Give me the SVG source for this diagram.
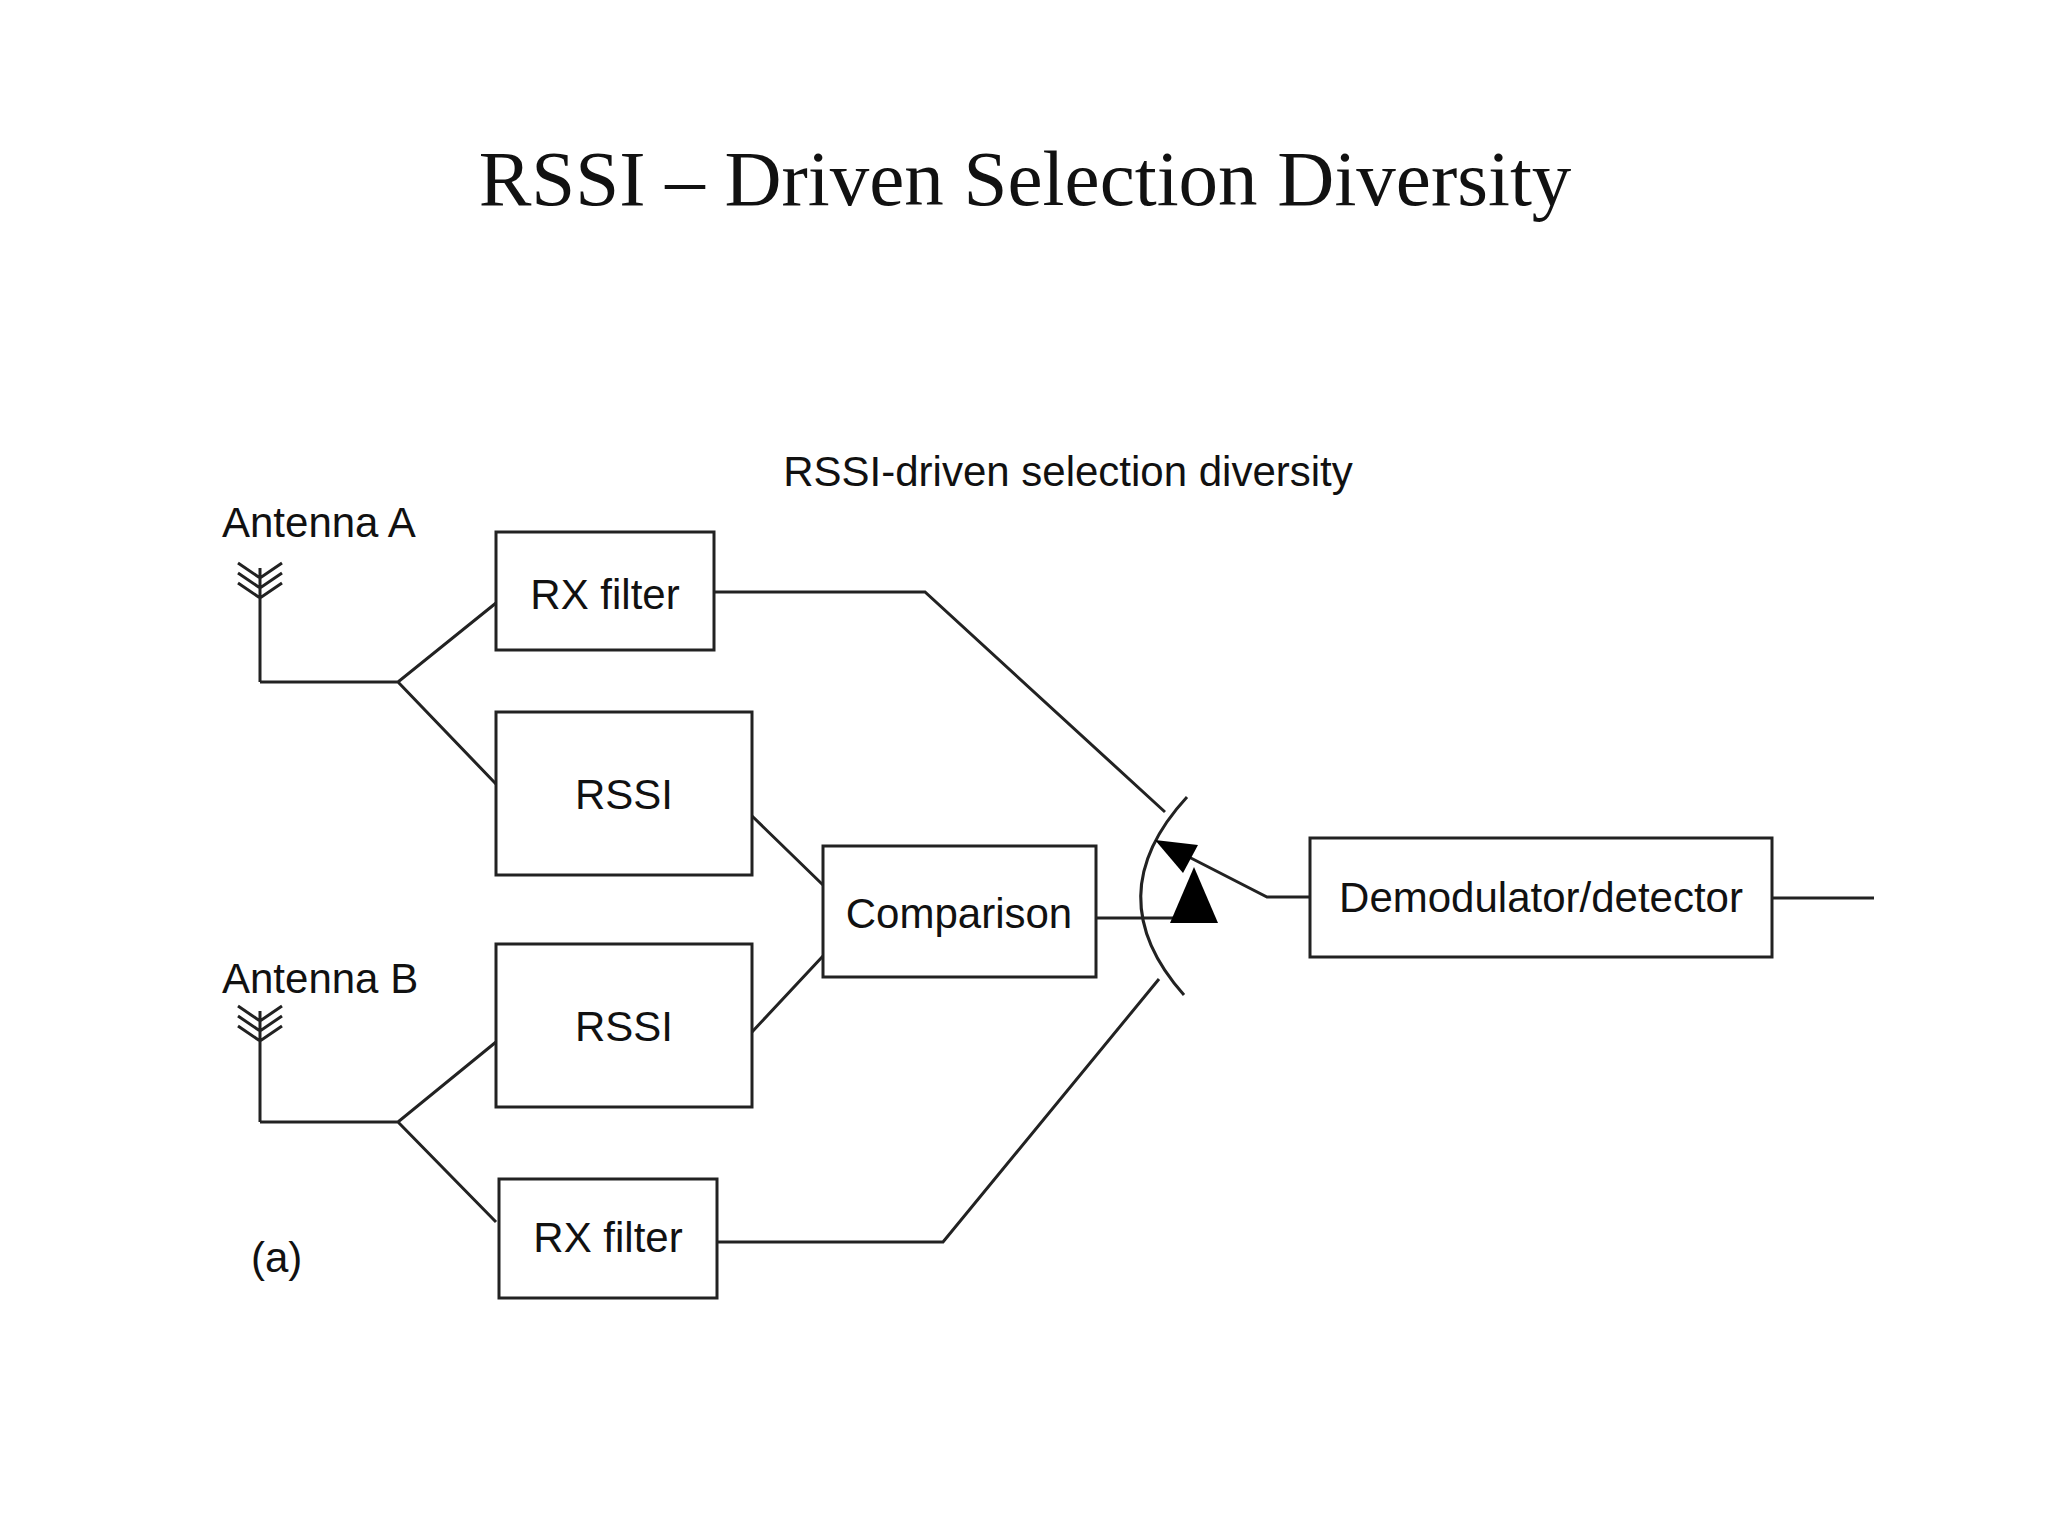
<svg xmlns="http://www.w3.org/2000/svg" width="2048" height="1536" viewBox="0 0 2048 1536">
<style>
.b{fill:#fff;stroke:#222;stroke-width:3}
.l{fill:none;stroke:#222;stroke-width:3}
.t{font-family:"Liberation Sans",Arial,sans-serif;font-size:42px;fill:#111;text-anchor:middle}
.a{fill:#000;stroke:none}
</style>
<rect width="2048" height="1536" fill="#fff"/>
<text x="1025" y="205" font-family="Liberation Serif,serif" font-size="79" text-anchor="middle" fill="#111">RSSI – Driven Selection Diversity</text>
<text x="1068" y="486" class="t">RSSI-driven selection diversity</text>
<g id="antennaA"><text x="222" y="537" class="t" style="text-anchor:start">Antenna A</text>
<path class="l" d="M238,563 L260,578 L282,563 M238,573 L260,588 L282,573 M238,583 L260,598 L282,583 M260,568 V682"/></g>
<g id="antennaB"><text x="222" y="993" class="t" style="text-anchor:start">Antenna B</text>
<path class="l" d="M238,1006 L260,1021 L282,1006 M238,1016 L260,1031 L282,1016 M238,1026 L260,1041 L282,1026 M260,1011 V1122"/></g>
<g id="rxA"><rect class="b" x="496" y="532" width="218" height="118"/><text x="605" y="609" class="t">RX filter</text></g>
<g id="rssiA"><rect class="b" x="496" y="712" width="256" height="163"/><text x="624" y="809" class="t">RSSI</text></g>
<g id="comparison"><rect class="b" x="823" y="846" width="273" height="131"/><text x="959" y="928" class="t">Comparison</text></g>
<g id="rssiB"><rect class="b" x="496" y="944" width="256" height="163"/><text x="624" y="1041" class="t">RSSI</text></g>
<g id="rxB"><rect class="b" x="499" y="1179" width="218" height="119"/><text x="608" y="1252" class="t">RX filter</text></g>
<g id="demod"><rect class="b" x="1310" y="838" width="462" height="119"/><text x="1541" y="912" class="t">Demodulator/detector</text></g>
<g id="label"><text x="251" y="1272" class="t" style="text-anchor:start">(a)</text></g>
<g id="connectors">
<path class="l" d="M260,682 H398 L496,603 M398,682 L496,784"/>
<path class="l" d="M260,1122 H398 L496,1042 M398,1122 L496,1222"/>
<path class="l" d="M752,816 L823,885 M752,1032 L823,956"/>
<path class="l" d="M714,592 H925 L1165,812 M717,1242 H943 L1159,979"/>
<path class="l" d="M1096,918 H1180"/>
<path class="l" d="M1187,797 Q1096,896 1184,995"/>
<path class="l" d="M1185,855 L1267,897 H1310 M1772,898 H1874"/>
<polygon class="a" points="1155,840 1198,845 1183,873"/>
<polygon class="a" points="1194,867 1170,923 1218,923"/>
</g>
</svg>
